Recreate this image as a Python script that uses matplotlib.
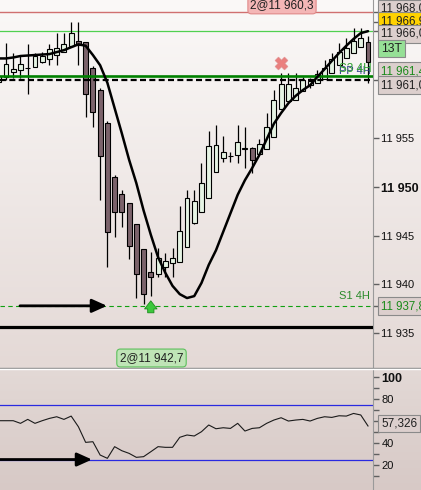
import numpy as np
import matplotlib
matplotlib.use('Agg')
import matplotlib.pyplot as plt
from matplotlib.ticker import FixedLocator, FuncFormatter

plt.rcParams['font.family'] = ['Liberation Sans', 'DejaVu Sans']

# ---------------- data ----------------
opens = [11960.8, 11961.3, 11961.8, 11962.0, 11962.2, 11962.3, 11962.8, 11963.1, 11963.6, 11963.9,
         11964.5, 11965.0, 11964.9, 11962.2, 11960.0, 11956.6, 11951.0, 11949.3, 11948.4, 11946.2,
         11943.6, 11941.3, 11941.1, 11941.8, 11942.2, 11942.3, 11943.8, 11946.3, 11947.4, 11948.9,
         11951.5, 11953.0, 11953.2, 11953.3, 11953.9, 11954.0, 11953.4, 11953.9, 11955.1, 11958.0,
         11958.8, 11958.9, 11959.9, 11960.5, 11960.7, 11961.1, 11961.7, 11962.5, 11963.2, 11963.8,
         11964.4, 11964.9]
highs = [11961.6, 11964.8, 11963.8, 11963.6, 11964.7, 11963.8, 11963.9, 11964.7, 11965.8, 11965.8,
         11966.9, 11966.9, 11964.9, 11962.4, 11960.2, 11956.8, 11951.2, 11949.7, 11948.4, 11946.2,
         11943.6, 11943.3, 11943.7, 11943.2, 11943.7, 11948.0, 11949.7, 11949.7, 11952.5, 11955.8,
         11956.4, 11955.2, 11953.6, 11956.4, 11956.2, 11954.1, 11954.9, 11957.6, 11960.0, 11961.7,
         11961.7, 11961.7, 11961.3, 11961.2, 11962.0, 11963.0, 11963.8, 11964.8, 11965.3, 11966.3,
         11966.3, 11965.5]
lows = [11960.5, 11961.0, 11961.2, 11961.2, 11959.5, 11962.3, 11962.7, 11962.5, 11962.5, 11963.9,
        11964.5, 11962.5, 11957.2, 11956.2, 11948.7, 11941.8, 11944.9, 11945.9, 11942.6, 11938.6,
        11938.0, 11938.8, 11940.8, 11940.8, 11940.8, 11942.3, 11943.8, 11946.2, 11947.4, 11948.9,
        11951.5, 11952.6, 11952.6, 11952.5, 11952.0, 11951.4, 11953.4, 11953.9, 11955.1, 11958.0,
        11958.8, 11958.9, 11959.9, 11960.2, 11960.7, 11961.1, 11961.7, 11962.5, 11963.2, 11963.8,
        11964.4, 11960.7]
closes = [11961.4, 11962.6, 11962.1, 11962.6, 11962.2, 11963.4, 11963.4, 11964.2, 11964.3, 11964.7,
          11965.8, 11964.6, 11959.5, 11957.7, 11953.2, 11945.4, 11947.4, 11947.4, 11943.9, 11941.1,
          11939.0, 11940.8, 11942.7, 11942.4, 11942.7, 11945.5, 11948.9, 11948.6, 11950.4, 11954.2,
          11954.3, 11953.6, 11953.2, 11954.6, 11954.0, 11952.8, 11954.4, 11956.2, 11958.9, 11960.6,
          11960.6, 11960.2, 11961.0, 11960.9, 11961.6, 11962.2, 11963.1, 11963.9, 11964.3, 11965.0,
          11965.3, 11962.8]
ma = [11963.2, 11963.2, 11963.3, 11963.45, 11963.5, 11963.55, 11963.6, 11963.65, 11963.85, 11964.05,
      11964.35, 11964.65, 11964.5, 11963.55, 11962.5, 11960.7, 11958.1, 11955.5, 11952.8, 11950.4,
      11947.6, 11945.1, 11942.8, 11941.2, 11939.85, 11939.0, 11938.6, 11938.8, 11940.15, 11942.0,
      11943.5, 11945.4, 11947.3, 11949.2, 11950.7, 11951.95, 11953.3, 11954.9, 11956.5, 11957.6,
      11958.6, 11959.35, 11959.95, 11960.45, 11961.3, 11962.1, 11962.95, 11963.75, 11964.5, 11965.2,
      11965.8, 11966.0]
rsi = [60.3, 60.3, 60.3, 57.9, 61.5, 57.9, 60.3, 62.4, 63.9, 61.5,
       64.5, 54.8, 40.6, 41.2, 29.1, 26.1, 36.7, 33.0, 30.6, 27.0,
       27.6, 32.1, 36.7, 36.1, 36.1, 45.2, 47.3, 46.4, 50.3, 56.4,
       53.0, 53.9, 53.3, 57.9, 50.9, 53.3, 53.9, 57.9, 60.9, 63.0,
       60.0, 60.9, 61.5, 60.0, 62.4, 63.9, 63.3, 64.8, 64.5, 66.9,
       65.5, 55.5]

level_red = 11968.0
level_high = 11966.9
level_green_thin = 11966.0
level_s3 = 11961.4
level_pp = 11961.0
level_s1 = 11937.8
level_black = 11935.6
rsi_upper, rsi_lower = 75, 25
rsi_last = "57,326"
price_ticks = [11935, 11940, 11945, 11950, 11955]
rsi_ticks = [20, 40, 80, 100]
buy_label = "2@11 942,7"
sell_label = "2@11 960,3"
buy_idx = 20        # candle with the buy arrow (first full candle = 0)
exit_idx = 38       # candle with the exit cross
exit_price = 11962.7

# ---------------- figure ----------------
W, H = 421, 490
fig = plt.figure(figsize=(W / 100, H / 100), dpi=100)

def fx(px):
    return px / W

def fy(py):
    return 1 - py / H

# background gradient
bg = fig.add_axes([0, 0, 1, 1], zorder=-10)
grad = np.zeros((H, 1, 3))
c_top = np.array([251, 249, 248]) / 255
c_mb = np.array([228, 217, 214]) / 255
c_lt = np.array([227, 217, 214]) / 255
c_lb = np.array([215, 201, 198]) / 255
for r in range(H):
    if r < 368:
        t = r / 367
        grad[r, 0] = c_top * (1 - t) + c_mb * t
    else:
        t = (r - 368) / (H - 368)
        grad[r, 0] = c_lt * (1 - t) + c_lb * t
bg.imshow(grad, aspect='auto', extent=[0, 1, 0, 1], interpolation='bilinear')
bg.set_xlim(0, 1); bg.set_ylim(0, 1)
bg.axis('off')

ax = fig.add_axes([0, fy(367), fx(373), 367 / H])
ax2 = fig.add_axes([0, 0, fx(373), 120 / H])
for a in (ax, ax2):
    a.set_facecolor('none')
    for s in ('left', 'top', 'bottom'):
        a.spines[s].set_visible(False)
    a.spines['right'].set_color('#9a9a9a')
    a.set_xticks([])
    a.yaxis.tick_right()
    a.tick_params(axis='y', which='both', length=4, width=1, color='#606060',
                  labelsize=8, pad=2, labelcolor='#101010')
    a.set_xlim(-0.83, 50.69)

# candle index: first (partial) candle is -1
x = np.arange(len(opens)) - 1
ax.set_ylim(11931.52, 11969.20)
ax2.set_ylim(-2.7, 106.4)

# horizontal levels
ax.axhline(level_red, color='#d07070', lw=1.0, zorder=3)
ax.axhline(level_green_thin, color='#50d050', lw=0.9, zorder=3)
ax.axhline(level_s1, color='#10a010', lw=0.8, ls=(0, (4, 3)), zorder=3)
ax.axhline(level_black, color='black', lw=2.3, zorder=3)

# candles
opens_a = np.array(opens); closes_a = np.array(closes)
up = closes_a >= opens_a
cols = np.where(up, '#e6f4e4', '#7b636b')
bottoms = np.minimum(opens_a, closes_a)
heights = np.abs(closes_a - opens_a)
ax.vlines(x, lows, highs, color='black', lw=0.9, zorder=4)
ax.bar(x, heights, bottom=bottoms, width=0.68, color=cols, edgecolor='black',
       linewidth=0.8, zorder=5)

ax.axhline(level_s3, color='#008000', lw=1.9, zorder=6)
ax.axhline(level_pp, color='black', lw=1.6, ls=(0, (2.7, 1.5)), zorder=6)

# moving average
ax.plot(x, ma, color='black', lw=1.8, zorder=7, solid_capstyle='round')

# markers
ax.scatter([exit_idx], [exit_price], marker='X', s=75, color='#e85858', alpha=0.75,
           edgecolors='#e08080', zorder=8)
ax.annotate('', xy=(buy_idx, 11938.6), xytext=(buy_idx, 11936.8),
            arrowprops=dict(arrowstyle='simple,head_width=1.0,head_length=0.65,tail_width=0.5',
                            fc='#3cc83c', ec='#1c8c1c', lw=0.6, mutation_scale=9), zorder=8)
ax.annotate('', xy=(13.95, level_s1), xytext=(1.93, level_s1),
            arrowprops=dict(arrowstyle='-|>,head_width=0.45,head_length=1.0', color='black',
                            lw=2.0, mutation_scale=9, shrinkA=0, shrinkB=0), zorder=8)

ax.text(50.3, level_s1 + 0.45, 'S1 4H', color='#2a8a2a', fontsize=8, ha='right', va='bottom', zorder=9)
ax.text(50.35, level_pp + 0.35, 'PP 4H', color='#2a3a8a', fontsize=8, ha='right', va='bottom', zorder=9)
ax.text(50.45, level_s3 + 0.15, 'S3 4H', color='#30a030', fontsize=8.5, ha='right', va='bottom', zorder=9)

# price axis
fmt = FuncFormatter(lambda v, p: f"{int(round(v)):,}".replace(",", " "))
ax.yaxis.set_major_locator(FixedLocator(price_ticks))
ax.yaxis.set_major_formatter(fmt)
ax.yaxis.set_minor_locator(FixedLocator([level_red, level_high, level_green_thin, level_pp, level_s1]))
for lab in ax.get_yticklabels():
    if lab.get_text() == '11 950':
        lab.set_fontweight('bold')
        lab.set_fontsize(9)

# RSI panel
ax2.axhline(rsi_upper, color='#2a2ae0', lw=0.9)
ax2.axhline(rsi_lower, color='#2a2ae0', lw=0.9)
ax2.plot(x, rsi, color='#1a1a1a', lw=0.8, zorder=5)
ax2.annotate('', xy=(11.88, rsi_lower), xytext=(-0.83, rsi_lower),
             arrowprops=dict(arrowstyle='-|>,head_width=0.45,head_length=1.0', color='black',
                             lw=2.0, mutation_scale=9, shrinkA=0, shrinkB=0), zorder=8)
ax2.yaxis.set_major_locator(FixedLocator(rsi_ticks))
ax2.yaxis.set_major_formatter(FuncFormatter(lambda v, p: f"{int(v)}"))
ax2.yaxis.set_minor_locator(FixedLocator([10, 30, 50, 60, 70, 90]))
for lab in ax2.get_yticklabels():
    if lab.get_text() == '100':
        lab.set_fontweight('bold')
        lab.set_fontsize(9)

# panel separator
fig.add_artist(plt.Line2D([0, 1], [fy(367.5), fy(367.5)], color='#8c8c8c', lw=1.0))
fig.add_artist(plt.Line2D([0, 1], [fy(369), fy(369)], color='#ffffff', lw=1.0))

# right-side value boxes
boxes = [("11 968,0", 8.5, '#dccfcd', '#202020', 8.3),
         ("11 966,9", 21, '#ffd200', '#202020', 8.3),
         ("11 966,0", 34, '#dccfcd', '#202020', 8.3),
         ("13T", 48.5, '#96e096', '#202020', 8.8),
         ("11 961,4", 71, '#dccfcd', '#1a8a1a', 8.3),
         ("11 961,0", 85, '#dccfcd', '#202020', 8.3),
         ("11 937,8", 306, '#dccfcd', '#1a8a1a', 8.3),
         (rsi_last, 423.5, '#dccfcd', '#202020', 8.5)]
for txt, py, fc, tc, fs in boxes:
    fig.text(fx(381), fy(py), txt, fontsize=fs, color=tc, ha='left', va='center',
             bbox=dict(boxstyle='square,pad=0.22', fc=fc, ec='#8a8a8a', lw=0.8))

# trade labels
fig.text(fx(282), fy(5.5), sell_label, fontsize=8.5, color='#202020', ha='center', va='center',
         bbox=dict(boxstyle='round,pad=0.2,rounding_size=0.3', fc='#f4b6b6', ec='#e08a8a', lw=0.8))
fig.text(fx(151.5), fy(358), buy_label, fontsize=8.5, color='#202020', ha='center', va='center',
         bbox=dict(boxstyle='round,pad=0.25,rounding_size=0.3', fc='#bfe4b6', ec='#5cc05c', lw=0.8))

fig.savefig('out.png', dpi=100)
